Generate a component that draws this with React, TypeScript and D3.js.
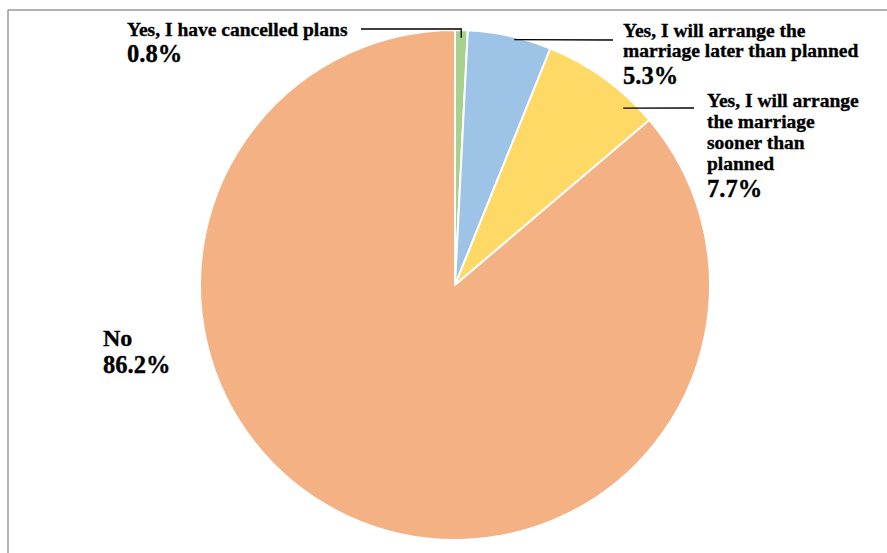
import React from "react";
import * as d3 from "d3";

const categories = [
  "Yes, I have cancelled plans",
  "Yes, I will arrange the marriage later than planned",
  "Yes, I will arrange the marriage sooner than planned",
  "No",
];
const values = [0.8, 5.3, 7.7, 86.2];
const colors = ["#A9D18E", "#9DC3E6", "#FFD966", "#F4B183"];
const labelLines = [
  ["Yes, I have cancelled plans"],
  ["Yes, I will arrange the", "marriage later than planned"],
  ["Yes, I will arrange", "the marriage", "sooner than", "planned"],
  ["No"],
];
const percentLabels = ["0.8%", "5.3%", "7.7%", "86.2%"];

const W = 887;
const H = 553;
const cx = 455;
const cy = 285;
const R = 255;
const FONT = "'Liberation Serif', 'Times New Roman', serif";

// label layout: text anchor position + leader spec
const layout = [
  { x: 127, y: 36, lh: 21, pctGap: 26, leader: { sx: 361, sy: 29, frac: 0.5, rf: 0.97, elbow: true } },
  { x: 623, y: 37, lh: 19.5, pctGap: 27, leader: { sx: 613, sy: 40, frac: 0.56, rf: 0.99, elbow: false } },
  { x: 707, y: 107, lh: 21, pctGap: 27, leader: { sx: 694, sy: 108, frac: 0.78, rf: 0.957, elbow: false } },
  { x: 103, y: 346, lh: 27, pctGap: 27, leader: null },
];

export default function App() {
  const pie = d3.pie<number>().sort(null).value((d) => d)(values);
  const arc = d3.arc<d3.PieArcDatum<number>>().innerRadius(0).outerRadius(R);

  return (
    <svg
      width={W}
      height={H}
      style={{ position: "fixed", left: 0, top: 0, background: "#fff" }}
    >
      <rect x={0} y={0} width={W} height={H} fill="#fff" />
      <line x1={8} y1={10} x2={W} y2={10} stroke="#9a9a9a" strokeWidth={1.5} />
      <line x1={8} y1={10} x2={8} y2={H} stroke="#9a9a9a" strokeWidth={1.5} />
      <g transform={`translate(${cx},${cy})`}>
        {pie.map((p, i) => (
          <path key={categories[i]} d={arc(p) || ""} fill={colors[i]} stroke="#fff" strokeWidth={2} strokeLinejoin="round" />
        ))}
      </g>
      {layout.map((l, i) => {
        const p = pie[i];
        let leader = null;
        if (l.leader) {
          const a = p.startAngle + (p.endAngle - p.startAngle) * l.leader.frac;
          const r = R * l.leader.rf;
          const ex = cx + r * Math.sin(a);
          const ey = cy - r * Math.cos(a);
          const pts = l.leader.elbow
            ? `${l.leader.sx},${l.leader.sy} ${ex},${l.leader.sy} ${ex},${ey}`
            : `${l.leader.sx},${l.leader.sy} ${ex},${ey}`;
          leader = <polyline points={pts} fill="none" stroke="#000" strokeWidth={1.3} />;
        }
        const lines = labelLines[i];
        const big = i === 3;
        return (
          <g key={"lab" + i}>
            {leader}
            <text fontFamily={FONT} fontWeight="bold" fill="#000" stroke="#000" strokeWidth={0.35}>
              {lines.map((t, j) => (
                <tspan key={j} x={l.x} y={l.y + j * l.lh} fontSize={big ? 24 : 19.5}>
                  {t}
                </tspan>
              ))}
              <tspan x={l.x} y={l.y + (lines.length - 1) * l.lh + l.pctGap} fontSize={24.5}>
                {percentLabels[i]}
              </tspan>
            </text>
          </g>
        );
      })}
    </svg>
  );
}
